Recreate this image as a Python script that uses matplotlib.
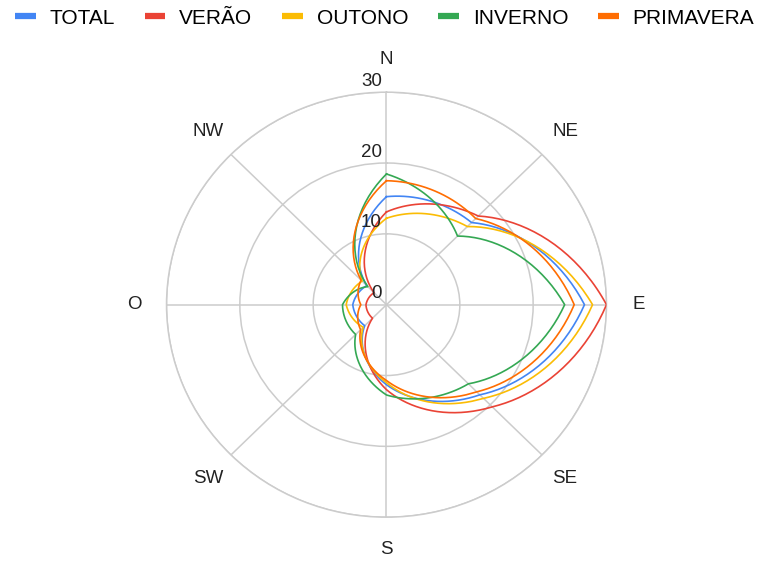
import numpy as np
import matplotlib
matplotlib.use("Agg")
import matplotlib.pyplot as plt
from matplotlib.lines import Line2D
from matplotlib.transforms import offset_copy

plt.rcParams['font.family'] = ['Liberation Sans', 'DejaVu Sans']

directions = ["N", "NE", "E", "SE", "S", "SW", "O", "NW"]
radial_ticks = [0, 10, 20, 30]

series_names = ["TOTAL", "VERÃO", "OUTONO", "INVERNO", "PRIMAVERA"]
total = [15.25, 16.4, 27.0, 18.0, 11.3, 4.2, 4.6, 3.8]
verao = [13.1, 17.7, 30.0, 20.4, 12.0, 2.7, 2.8, 2.4]
outono = [12.2, 15.6, 28.1, 18.7, 11.0, 4.5, 5.5, 4.7]
inverno = [18.45, 13.7, 24.3, 15.8, 12.75, 5.95, 6.0, 3.6]
primavera = [17.5, 17.2, 25.6, 17.4, 10.7, 5.0, 3.5, 4.9]
series_values = [total, verao, outono, inverno, primavera]
colors = ["#4285F4", "#EA4335", "#FBBC04", "#34A853", "#FF6D01"]

fig = plt.figure(figsize=(7.6, 5.61), dpi=100)
ax = fig.add_axes([0.2191, 0.0781, 0.5789, 0.7576], projection="polar")
ax.set_aspect("auto")
ax.set_theta_zero_location("N")
ax.set_theta_direction(-1)

theta = np.deg2rad(np.arange(len(directions)) * 45.0)
theta_closed = np.append(theta, 2 * np.pi)


def polar_segments(th, r, steps=40):
    """Join consecutive points with segments straight in (theta, r) space."""
    t_out, r_out = [], []
    for i in range(len(th) - 1):
        f = np.linspace(0, 1, steps, endpoint=False)
        t_out.append(th[i] + f * (th[i + 1] - th[i]))
        r_out.append(r[i] + f * (r[i + 1] - r[i]))
    t_out.append([th[-1]])
    r_out.append([r[-1]])
    return np.concatenate(t_out), np.concatenate(r_out)


for name, vals, col in zip(series_names, series_values, colors):
    r = np.append(vals, vals[0])
    t_line, r_line = polar_segments(theta_closed, r)
    ax.plot(t_line, r_line, color=col, lw=1.2, zorder=3)

ax.set_ylim(0, 30)
ax.set_yticks(radial_ticks)
ax.set_yticklabels([])
ax.set_xticks(theta)
ax.set_xticklabels(directions, fontsize=13.5, color="#222222")
ax.tick_params(axis="x", pad=13)
ax.grid(True, color="#cccccc", lw=1.1)
ax.spines["polar"].set_color("#cccccc")
ax.spines["polar"].set_linewidth(1.1)

# radial value labels just left of the north spoke
lab_tr = offset_copy(ax.transData, fig=fig, x=-4.5, y=11, units="dots")
for v in radial_ticks:
    ax.text(0, v, str(v), transform=lab_tr, ha="right", va="center",
            fontsize=13.5, color="#222222", zorder=4)

handles = [Line2D([0], [0], color=c, lw=4.5, solid_capstyle="butt") for c in colors]
fig.legend(handles, series_names, loc="upper center", bbox_to_anchor=(0.506, 1.018),
           ncol=5, frameon=False, fontsize=15, handlelength=1.0,
           handletextpad=0.67, columnspacing=1.42)

fig.savefig("out.png", dpi=100)
